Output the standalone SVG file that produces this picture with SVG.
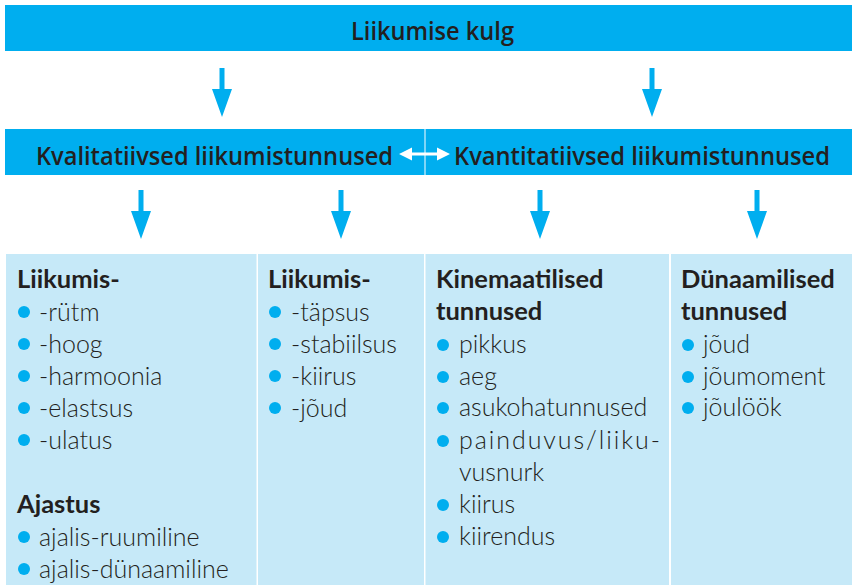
<svg xmlns="http://www.w3.org/2000/svg" width="852" height="585" viewBox="0 0 852 585">
<defs>
<style>
.bar{fill:#00AEEF}
.box{fill:#C6E9F8}
.bt{font-family:"Open Sans","Liberation Sans",sans-serif;font-weight:600;font-size:26px;fill:#231F20}
.h{font-family:Lato,"Liberation Sans",sans-serif;font-weight:700;font-size:25.5px;fill:#231F20}
.i{font-family:Lato,"Liberation Sans",sans-serif;font-weight:300;font-size:25px;fill:#231F20}
.dot{fill:#00AEEF}
.arr{fill:#00AEEF}
</style>
<path id="dn" d="M-2.5 0 H2.5 V21 H10 L0 49 L-10 21 H-2.5 Z"/>
</defs>
<rect width="852" height="585" fill="#ffffff"/>

<g id="top">
<rect class="bar" x="5" y="5" width="847" height="46"/>
<text class="bt" transform="translate(351,40) scale(0.8,1)" x="0" y="0" textLength="203.75" lengthAdjust="spacingAndGlyphs">Liikumise kulg</text>
</g>

<g id="kval">
<rect class="bar" x="5" y="129" width="419.5" height="46"/>
<text class="bt" transform="translate(36,165) scale(0.8,1)" x="0" y="0" textLength="446.25" lengthAdjust="spacingAndGlyphs">Kvalitatiivsed liikumistunnused</text>
</g>
<g id="kvant">
<rect class="bar" x="425.5" y="129" width="426.5" height="46"/>
<text class="bt" transform="translate(454,165) scale(0.8,1)" x="0" y="0" textLength="470" lengthAdjust="spacingAndGlyphs">Kvantitatiivsed liikumistunnused</text>
</g>

<g id="connectors">
<use href="#dn" class="arr" x="222" y="68"/>
<use href="#dn" class="arr" x="652" y="68"/>
<use href="#dn" class="arr" x="141" y="190"/>
<use href="#dn" class="arr" x="341" y="190"/>
<use href="#dn" class="arr" x="540" y="190"/>
<use href="#dn" class="arr" x="757" y="190"/>
<path d="M399 154 L412 147.5 V152.5 H437 V147.5 L450 154 L437 160.5 V155.5 H412 V160.5 Z" fill="#ffffff"/>
</g>

<g id="col1">
<rect class="box" x="6" y="254" width="250.5" height="331"/>
<text class="h" x="17" y="288">Liikumis-</text>
<circle class="dot" cx="24" cy="312" r="6"/><text class="i" x="39" y="321">-rütm</text>
<circle class="dot" cx="24" cy="344" r="6"/><text class="i" x="39" y="353">-hoog</text>
<circle class="dot" cx="24" cy="376" r="6"/><text class="i" x="39" y="385">-harmoonia</text>
<circle class="dot" cx="24" cy="408" r="6"/><text class="i" x="39" y="417">-elastsus</text>
<circle class="dot" cx="24" cy="440" r="6"/><text class="i" x="39" y="449">-ulatus</text>
<text class="h" x="17" y="513">Ajastus</text>
<circle class="dot" cx="24" cy="537" r="6"/><text class="i" x="39" y="546">ajalis-ruumiline</text>
<circle class="dot" cx="24" cy="569" r="6"/><text class="i" x="39" y="578">ajalis-dünaamiline</text>
</g>

<g id="col2">
<rect class="box" x="258" y="254" width="166" height="331"/>
<text class="h" x="268" y="288">Liikumis-</text>
<circle class="dot" cx="275" cy="312" r="6"/><text class="i" x="291" y="321">-täpsus</text>
<circle class="dot" cx="275" cy="344" r="6"/><text class="i" x="291" y="353">-stabiilsus</text>
<circle class="dot" cx="275" cy="376" r="6"/><text class="i" x="291" y="385">-kiirus</text>
<circle class="dot" cx="275" cy="408" r="6"/><text class="i" x="291" y="417">-jõud</text>
</g>

<g id="col3">
<rect class="box" x="425.5" y="254" width="243.5" height="331"/>
<text class="h" x="436" y="288">Kinemaatilised</text>
<text class="h" x="436" y="320">tunnused</text>
<circle class="dot" cx="443" cy="345" r="6"/><text class="i" x="459" y="353">pikkus</text>
<circle class="dot" cx="443" cy="377" r="6"/><text class="i" x="459" y="385">aeg</text>
<circle class="dot" cx="443" cy="408" r="6"/><text class="i" x="459" y="416">asukohatunnused</text>
<circle class="dot" cx="443" cy="441" r="6"/><text class="i" x="459" y="449" textLength="201" lengthAdjust="spacing">painduvus/liiku-</text>
<text class="i" x="459" y="481">vusnurk</text>
<circle class="dot" cx="443" cy="505" r="6"/><text class="i" x="459" y="513">kiirus</text>
<circle class="dot" cx="443" cy="537" r="6"/><text class="i" x="459" y="545">kiirendus</text>
</g>

<g id="col4">
<rect class="box" x="671" y="254" width="181" height="331"/>
<text class="h" x="681" y="288">Dünaamilised</text>
<text class="h" x="681" y="320">tunnused</text>
<circle class="dot" cx="688" cy="345" r="6"/><text class="i" x="703" y="353">jõud</text>
<circle class="dot" cx="688" cy="377" r="6"/><text class="i" x="703" y="385">jõumoment</text>
<circle class="dot" cx="688" cy="408" r="6"/><text class="i" x="703" y="416">jõulöök</text>
</g>
</svg>
